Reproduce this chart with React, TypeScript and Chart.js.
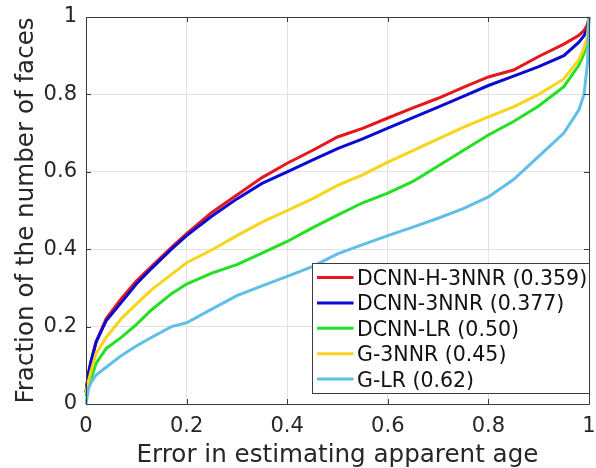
import React, { useEffect, useRef } from "react";
import { Chart, registerables } from "chart.js";

Chart.register(...registerables);

// ---- data ----
const errorLevels = [0, 0.005, 0.01, 0.02, 0.04, 0.07, 0.1, 0.13, 0.17, 0.2, 0.25, 0.3, 0.35, 0.4, 0.45, 0.5, 0.55, 0.6, 0.65, 0.7, 0.75, 0.8, 0.85, 0.9, 0.95, 0.98, 0.99, 0.997, 1];
const dcnnH3nnr = [0.03, 0.08, 0.11, 0.16, 0.22, 0.272, 0.318, 0.355, 0.405, 0.44, 0.495, 0.54, 0.585, 0.622, 0.655, 0.69, 0.712, 0.739, 0.765, 0.79, 0.818, 0.845, 0.863, 0.898, 0.93, 0.953, 0.965, 0.98, 1];
const dcnn3nnr = [0.03, 0.08, 0.11, 0.16, 0.215, 0.262, 0.31, 0.35, 0.4, 0.435, 0.485, 0.53, 0.57, 0.6, 0.63, 0.66, 0.685, 0.713, 0.74, 0.767, 0.795, 0.823, 0.847, 0.872, 0.9, 0.935, 0.952, 0.97, 1];
const dcnnLr = [0.02, 0.045, 0.065, 0.105, 0.143, 0.172, 0.205, 0.243, 0.285, 0.31, 0.338, 0.36, 0.39, 0.42, 0.455, 0.488, 0.52, 0.545, 0.575, 0.615, 0.655, 0.695, 0.73, 0.77, 0.82, 0.876, 0.905, 0.94, 1];
const g3nnr = [0.03, 0.06, 0.085, 0.13, 0.172, 0.22, 0.258, 0.295, 0.335, 0.365, 0.398, 0.435, 0.47, 0.5, 0.53, 0.565, 0.592, 0.625, 0.655, 0.685, 0.715, 0.742, 0.768, 0.8, 0.84, 0.89, 0.92, 0.95, 1];
const gLr = [0, 0.04, 0.055, 0.075, 0.095, 0.125, 0.15, 0.172, 0.2, 0.21, 0.245, 0.28, 0.305, 0.33, 0.355, 0.388, 0.412, 0.435, 0.457, 0.48, 0.505, 0.535, 0.58, 0.64, 0.7, 0.76, 0.8, 0.88, 1];

const seriesLabels = ["DCNN-H-3NNR (0.359)", "DCNN-3NNR (0.377)", "DCNN-LR (0.50)", "G-3NNR (0.45)", "G-LR (0.62)"];
const seriesValues = [dcnnH3nnr, dcnn3nnr, dcnnLr, g3nnr, gLr];
const seriesColors = ["#e6161e", "#0a0ad2", "#22e022", "#f8d41c", "#5fbfe8"];
const axisTicks = [0, 0.2, 0.4, 0.6, 0.8, 1];
const xTitle = "Error in estimating apparent age";
const yTitle = "Fraction of the number of faces";

const FONT = "'DejaVu Sans', 'Liberation Sans', sans-serif";
const AXIS_COLOR = "#3c3c3c";
const TEXT_COLOR = "#262626";

const framePlugin = {
  id: "matlabFrame",
  afterDatasetsDraw(chart: any) {
    const { ctx, chartArea, scales } = chart;
    const { left, right, top, bottom } = chartArea;
    ctx.save();
    ctx.strokeStyle = AXIS_COLOR;
    ctx.lineWidth = 1;
    ctx.beginPath();
    ctx.rect(Math.round(left) + 0.5, Math.round(top) + 0.5, Math.round(right - left), Math.round(bottom - top));
    ctx.stroke();
    const tl = 5;
    ctx.beginPath();
    for (const v of axisTicks) {
      const x = Math.round(scales.x.getPixelForValue(v)) + 0.5;
      ctx.moveTo(x, bottom);
      ctx.lineTo(x, bottom - tl);
      ctx.moveTo(x, top);
      ctx.lineTo(x, top + tl);
      const y = Math.round(scales.y.getPixelForValue(v)) + 0.5;
      ctx.moveTo(left, y);
      ctx.lineTo(left + tl, y);
      ctx.moveTo(right, y);
      ctx.lineTo(right - tl, y);
    }
    ctx.stroke();
    ctx.restore();
  },
  afterDraw(chart: any) {
    const { ctx, chartArea } = chart;
    const datasets = chart.data.datasets;
    const fontSize = 20.5;
    ctx.save();
    ctx.font = `${fontSize}px ${FONT}`;
    let maxW = 0;
    for (const ds of datasets) maxW = Math.max(maxW, ctx.measureText(ds.label).width);
    const rowH = 25.4;
    const boxRight = Math.round(chartArea.right) + 0.5;
    const boxBottom = Math.round(chartArea.bottom - 11) + 0.5;
    const boxH = 130;
    const boxW = 44 + maxW + 3;
    const boxLeft = Math.round(boxRight - boxW) + 0.5;
    const boxTop = boxBottom - boxH;
    ctx.fillStyle = "#ffffff";
    ctx.fillRect(boxLeft, boxTop, boxRight - boxLeft, boxH);
    ctx.strokeStyle = AXIS_COLOR;
    ctx.lineWidth = 1;
    ctx.strokeRect(boxLeft, boxTop, boxRight - boxLeft, boxH);
    datasets.forEach((ds: any, i: number) => {
      const y = boxTop + 14 + i * rowH;
      ctx.strokeStyle = ds.borderColor;
      ctx.lineWidth = 3;
      ctx.beginPath();
      ctx.moveTo(boxLeft + 4.5, y);
      ctx.lineTo(boxLeft + 41, y);
      ctx.stroke();
      ctx.fillStyle = "#111111";
      ctx.textBaseline = "alphabetic";
      ctx.textAlign = "left";
      ctx.fillText(ds.label, boxLeft + 44.5, y + fontSize * 0.365);
    });
    ctx.restore();
  },
};

export default function App() {
  const canvasRef = useRef<HTMLCanvasElement | null>(null);

  useEffect(() => {
    if (!canvasRef.current) return;
    const datasets = seriesValues.map((vals, i) => ({
      label: seriesLabels[i],
      data: errorLevels.map((x, j) => ({ x, y: vals[j] })),
      borderColor: seriesColors[i],
      backgroundColor: seriesColors[i],
      borderWidth: 3,
      pointRadius: 0,
      tension: 0,
      fill: false,
      clip: 6,
      order: seriesValues.length - i,
    }));
    const chart = new Chart(canvasRef.current, {
      type: "line",
      data: { datasets },
      options: {
        animation: false,
        responsive: false,
        maintainAspectRatio: false,
        devicePixelRatio: 1,
        layout: { padding: { top: 17, right: 7, left: 0, bottom: 0 } },
        plugins: {
          legend: { display: false },
          tooltip: { enabled: false },
        },
        scales: {
          x: {
            type: "linear",
            min: 0,
            max: 1,
            afterBuildTicks: (scale: any) => {
              scale.ticks = axisTicks.map((v) => ({ value: v }));
            },
            afterFit: (scale: any) => {
              scale.height = 64;
              scale.paddingLeft = 0;
              scale.paddingRight = 0;
            },
            ticks: {
              color: TEXT_COLOR,
              font: { family: FONT, size: 21 },
              padding: 10,
              maxRotation: 0,
              callback: (v: any) => String(v),
            },
            grid: { color: "#e2e2e2", lineWidth: 1, drawTicks: false },
            border: { display: false },
            title: {
              display: true,
              text: xTitle,
              color: TEXT_COLOR,
              font: { family: FONT, size: 24.6, lineHeight: 1 },
              padding: { top: 0, bottom: 0 },
            },
          },
          y: {
            type: "linear",
            min: 0,
            max: 1,
            afterBuildTicks: (scale: any) => {
              scale.ticks = axisTicks.map((v) => ({ value: v }));
            },
            afterFit: (scale: any) => {
              scale.width = 86;
              scale.paddingTop = 0;
              scale.paddingBottom = 0;
            },
            ticks: {
              color: TEXT_COLOR,
              font: { family: FONT, size: 21 },
              padding: 9,
              callback: (v: any) => String(v),
            },
            grid: { color: "#e2e2e2", lineWidth: 1, drawTicks: false },
            border: { display: false },
            title: {
              display: true,
              text: yTitle,
              color: TEXT_COLOR,
              font: { family: FONT, size: 24.6, lineHeight: 1 },
              padding: { top: 14, bottom: 0 },
            },
          },
        },
      },
      plugins: [framePlugin],
    });
    return () => chart.destroy();
  }, []);

  return (
    <div style={{ position: "fixed", left: 0, top: 0, width: 596, height: 468, background: "#ffffff" }}>
      <canvas ref={canvasRef} width={596} height={468} style={{ width: 596, height: 468, display: "block" }} />
    </div>
  );
}
